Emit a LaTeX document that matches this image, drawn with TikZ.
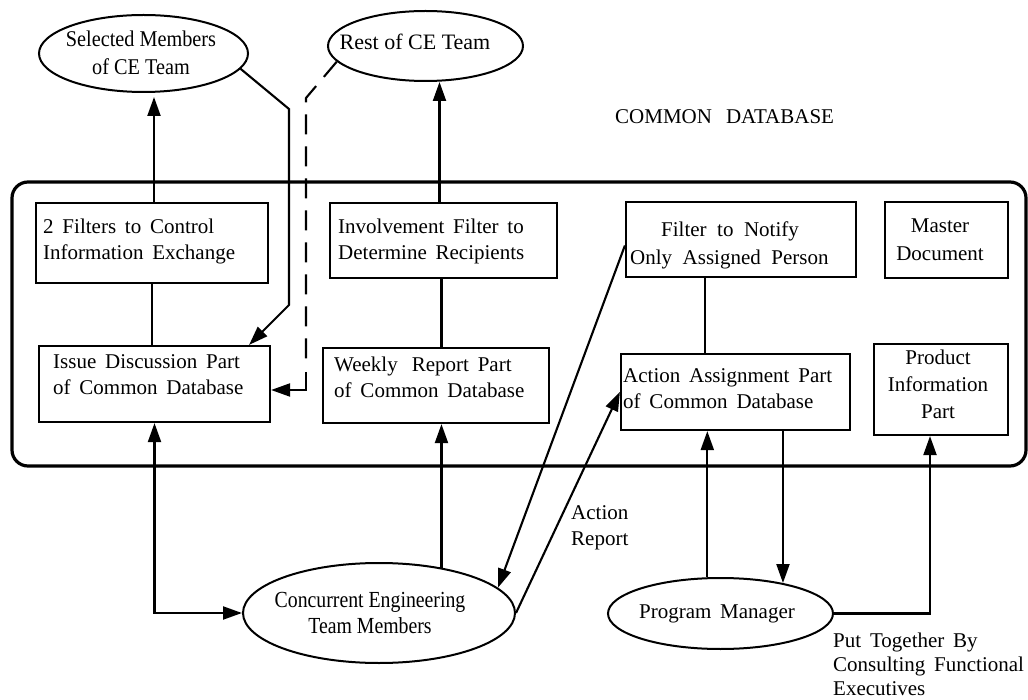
\documentclass[tikz,border=0pt]{standalone}
\usepackage{fontspec}
\setmainfont{Liberation Serif}
\newfontfamily\narrowserif[FakeStretch=0.9]{Liberation Serif}
\newfontfamily\ceserif[FakeStretch=0.86]{Liberation Serif}
\usetikzlibrary{arrows.meta,shapes.geometric,calc}
% text sizes with wide word spacing, as in the typed original
\newcommand\boxfont{\fontsize{21}{26}\selectfont\spaceskip=0.42em\relax}
\newcommand\notifyfont{\fontsize{21}{28}\selectfont\spaceskip=0.5em\relax}
\newcommand\notefont{\fontsize{21}{24}\selectfont\spaceskip=0.42em\relax}

\begin{document}
\begin{tikzpicture}[x=1pt,y=-1pt,
  boxshape/.style={draw, line width=2.2pt, inner sep=0pt},
  ovalshape/.style={draw, ellipse, line width=2pt, inner sep=0pt},
  txt/.style={inner sep=0pt, align=left, font=\boxfont},
  wire/.style={line width=2.1pt},
  arr/.style={wire, -{Triangle[length=19pt,width=13pt]}},
  arrs/.style={wire, {Triangle[length=19pt,width=13pt]}-{Triangle[length=19pt,width=13pt]}},
  dashwire/.style={wire, dash pattern=on 20pt off 12pt},
]
\useasboundingbox (0,0) rectangle (1028,700);

% the common database frame
\node[draw, line width=3.2pt, rounded corners=16pt, inner sep=0pt,
      minimum width=1014pt, minimum height=284pt] (db) at (519,324) {};
\node[txt, anchor=base west] (dbt) at (615,124) {COMMON\hspace{14pt}DATABASE};

% parts of the database
\node[boxshape, minimum width=232pt, minimum height=80pt] (f2) at (152,243) {};
\node[boxshape, minimum width=227pt, minimum height=75pt] (if) at (443.5,240.5) {};
\node[boxshape, minimum width=230pt, minimum height=75pt] (fn) at (741,239.5) {};
\node[boxshape, minimum width=123pt, minimum height=76pt] (md) at (946.5,240) {};
\node[boxshape, minimum width=231pt, minimum height=76pt] (id) at (154.5,384) {};
\node[boxshape, minimum width=226pt, minimum height=75pt] (wr) at (436,385.5) {};
\node[boxshape, minimum width=229pt, minimum height=76pt] (aa) at (735.5,392) {};
\node[boxshape, minimum width=134pt, minimum height=91pt] (pi) at (941,389.5) {};

% (multi-line texts are placed by the baseline of their last line)
\node[txt, anchor=base west] (f2t) at (43,260) {2 Filters to Control\\Information Exchange};
\node[txt, anchor=base west] (ift) at (338,260) {Involvement Filter to\\Determine Recipients};
\node[txt, anchor=base west, font=\notifyfont]
     (fnt) at (630,265) {\hspace*{31pt}Filter to Notify\\Only Assigned Person};
\node[txt, anchor=base, align=center, font=\fontsize{21}{28}\selectfont] (mdt) at (940,261) {Master\\Document};
\node[txt, anchor=base west] (idt) at (53,395) {Issue Discussion Part\\of Common Database};
\node[txt, anchor=base west] (wrt) at (334,398) {Weekly\hspace{14pt}Report Part\\of Common Database};
\node[txt, anchor=base west] (aat) at (623,409) {Action Assignment Part\\of Common Database};
\node[txt, anchor=base, align=center, font=\fontsize{21}{27}\selectfont] (pit) at (938,418) {Product\\Information\\Part};

% the people
\node[ovalshape, minimum width=209pt, minimum height=77pt] (sm) at (143.5,53.5) {};
\node[ovalshape, minimum width=195pt, minimum height=70pt] (rest) at (425.5,46) {};
\node[ovalshape, minimum width=272pt, minimum height=100pt] (ce) at (379,613) {};
\node[ovalshape, minimum width=225pt, minimum height=71pt] (pm) at (720.5,613.5) {};

\node[txt, anchor=base, align=center, font=\narrowserif\fontsize{22.5}{28}\selectfont] (smt) at (141,75) {Selected Members\\of CE Team};
\node[txt, anchor=base, font=\fontsize{22}{26}\selectfont] (restt) at (415,50) {Rest of CE Team};
\node[txt, anchor=base, align=center, font=\ceserif\fontsize{23}{26}\selectfont] (cet) at (370,633) {Concurrent Engineering\\Team Members};
\node[txt, anchor=base] (pmt) at (717,618) {Program Manager};

% free labels
\node[txt, anchor=base west] (art) at (571,545) {Action\\Report};
\node[txt, anchor=base west, font=\notefont]
     (ptt) at (833,695) {Put Together By\\Consulting Functional\\Executives};

% connectors
\coordinate (p1) at ($(f2.north)+(2,0)$);
\draw[arr, shorten >=4pt] (p1) -- (p1 |- sm.south);
\draw[wire] (f2.south) -- (f2.south |- id.north);
\draw[arr] (sm.-9) -- (289,109) -- (289,305) -- ($(id.north east)+(-22,0)$);

\draw[dashwire] (rest.190) -- (306,98) -- (306,366);
\draw[arr] (306,372) -- (306,390) -- (id.east |- 0,390);

\coordinate (p2) at ($(if.north)+(-4,0)$);
\draw[arr] (p2) -- (p2 |- rest.south);
\coordinate (p3) at ($(if.south)+(-2,0)$);
\draw[wire] (p3) -- (p3 |- wr.north);
\draw[arr] (ce.36) -- (ce.36 |- wr.south);

\draw[arrs] (id.south) -- (id.south |- ce.west) -- (ce.west);

\draw[arr] ($(fn.west)+(0,6)$) -- (ce.12);
\draw[arr] (ce.east) -- (aa.west);

\coordinate (p5) at ($(fn.south)+(-36,0)$);
\draw[wire] (p5) -- (p5 |- aa.north);
\draw[arr] (pm.110) -- (pm.110 |- aa.south);
\draw[arr] (pm.26 |- aa.south) -- (pm.26);
\coordinate (p4) at ($(pi.south)+(-11,0)$);
\draw[arr] (pm.east) -| (p4);
\end{tikzpicture}
\end{document}
